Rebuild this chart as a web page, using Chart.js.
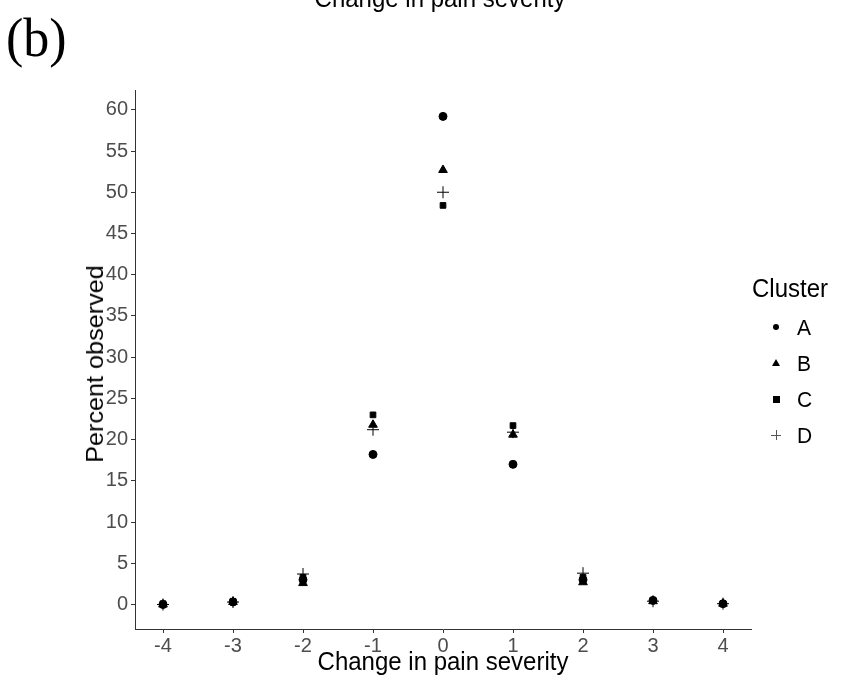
<!DOCTYPE html>
<html>
<head>
<meta charset="utf-8">
<script src="https://cdn.jsdelivr.net/npm/chart.js@4"></script>
<style>
  body { margin: 0; background: #fff; font-family: Arial, "Liberation Sans", sans-serif; }
  #wrap { position: relative; width: 849px; height: 686px; overflow: hidden; }
  #chart { position: absolute; left: 0; top: 0; }
  .txt { position: absolute; color: #000; white-space: nowrap; line-height: 1; }
  .tall { transform: scaleY(1.06); }
  .sym { position: absolute; }
</style>
</head>
<body>
<div id="wrap">
  <canvas id="chart" width="849" height="686"></canvas>
  <div class="txt tall" style="left:0;width:880px;text-align:center;top:-13px;font-size:24px;">Change in pain severity</div>
  <div class="txt tall" style="left:6px;top:12px;font-family:'Liberation Serif','Times New Roman',serif;font-size:52px;">(b)</div>
  <div class="txt tall" style="left:135px;width:616px;text-align:center;top:650px;font-size:24px;">Change in pain severity</div>
  <div class="txt" style="left:95px;top:364px;font-size:24px;transform:translate(-50%,-50%) rotate(-90deg) scaleX(1.05);">Percent observed</div>
  <div id="legend"></div>
</div>
<script>
const changes = [-4, -3, -2, -1, 0, 1, 2, 3, 4];
const clusterA = [0.0, 0.3, 3.0, 18.2, 59.2, 17.0, 3.0, 0.5, 0.1];
const clusterB = [0.0, 0.3, 2.6, 21.8, 52.7, 20.6, 2.7, 0.4, 0.1];
const clusterC = [0.1, 0.4, 3.3, 23.0, 48.4, 21.7, 3.3, 0.5, 0.1];
const clusterD = [0.0, 0.3, 3.7, 21.2, 50.0, 20.9, 3.8, 0.4, 0.1];
const yTicks = [0, 5, 10, 15, 20, 25, 30, 35, 40, 45, 50, 55, 60];
const xTicks = [-4, -3, -2, -1, 0, 1, 2, 3, 4];

const clusters = [
  { label: "A", values: clusterA, style: "circle", radius: 4 },
  { label: "B", values: clusterB, style: "triangle", radius: 5 },
  { label: "C", values: clusterC, style: "rect", radius: 4 },
  { label: "D", values: clusterD, style: "cross", radius: 6 },
];

new Chart(document.getElementById("chart"), {
  type: "scatter",
  data: {
    datasets: clusters.map((c) => ({
      label: c.label,
      data: changes.map((x, i) => ({ x, y: c.values[i] })),
      pointStyle: c.style,
      pointRadius: c.radius,
      backgroundColor: "#000",
      borderColor: "#000",
      borderWidth: 1,
    })),
  },
  options: {
    responsive: false,
    animation: false,
    layout: { padding: { left: 0, top: 90, right: 98, bottom: 0 } },
    plugins: { legend: { display: false }, tooltip: { enabled: false } },
    scales: {
      x: {
        type: "linear",
        min: -4.4,
        max: 4.4,
        afterBuildTicks: (s) => { s.ticks = xTicks.map((v) => ({ value: v })); },
        afterFit: (s) => { s.height = 57; },
        grid: { drawOnChartArea: false, drawTicks: true, tickLength: 4, color: "#333" },
        border: { display: true, color: "#333", width: 1 },
        ticks: { color: "#4d4d4d", font: { family: "Arial", size: 20 }, padding: 1, maxRotation: 0 },
      },
      y: {
        type: "linear",
        min: -2.97,
        max: 62.4,
        afterBuildTicks: (s) => { s.ticks = yTicks.map((v) => ({ value: v })); },
        afterFit: (s) => { s.width = 135; },
        grid: { drawOnChartArea: false, drawTicks: true, tickLength: 4, color: "#333" },
        border: { display: true, color: "#333", width: 1 },
        ticks: { color: "#4d4d4d", font: { family: "Arial", size: 20 }, padding: 3 },
      },
    },
  },
});

// legend drawn as HTML text with small symbols
const legend = document.getElementById("legend");
let html = '<div class="txt tall" style="left:752px;top:277px;font-size:24px;">Cluster</div>';
const symbols = {
  circle: '<div style="width:6px;height:6px;border-radius:50%;background:#000;"></div>',
  triangle: '<div style="width:0;height:0;border-left:4px solid transparent;border-right:4px solid transparent;border-bottom:7px solid #000;"></div>',
  rect: '<div style="width:7px;height:7px;background:#000;"></div>',
  cross: '<div style="position:relative;width:10px;height:10px;"><div style="position:absolute;left:4.5px;top:0;width:1px;height:10px;background:#555;"></div><div style="position:absolute;top:4.5px;left:0;width:10px;height:1px;background:#555;"></div></div>',
};
const offs = { circle: [773, 324], triangle: [772, 359], rect: [773, 396], cross: [771, 430] };
clusters.forEach((c, i) => {
  const top = 317 + i * 36;
  const o = offs[c.style];
  html += '<div class="sym" style="left:' + o[0] + 'px;top:' + o[1] + 'px;">' + symbols[c.style] + '</div>';
  html += '<div class="txt tall" style="left:797px;top:' + top + 'px;font-size:21px;">' + c.label + '</div>';
});
legend.innerHTML = html;
</script>
</body>
</html>
